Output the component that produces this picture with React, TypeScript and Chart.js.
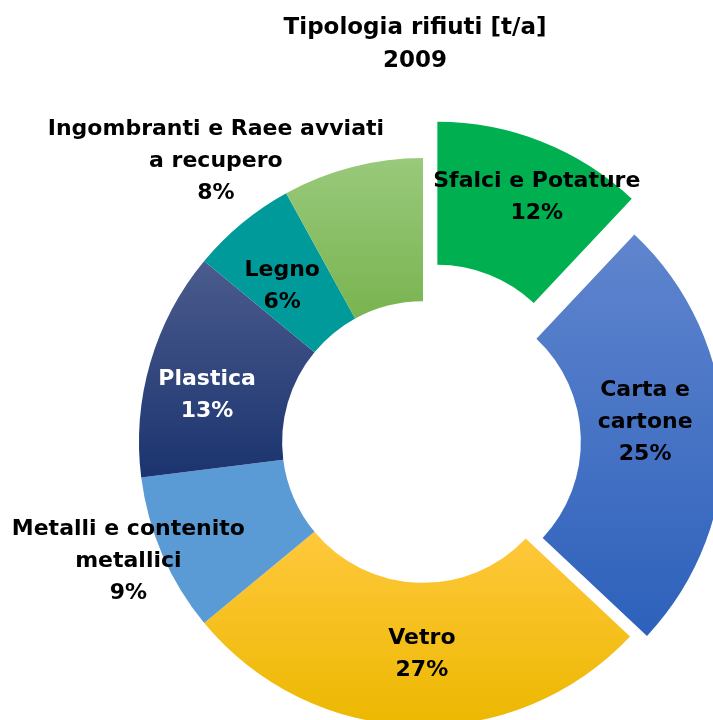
import React, { useEffect, useRef } from "react";
import { Chart, registerables } from "chart.js";

Chart.register(...registerables);

// ---- data ----
const categories = [
  "Sfalci e Potature",
  "Carta e cartone",
  "Vetro",
  "Metalli e contenito metallici",
  "Plastica",
  "Legno",
  "Ingombranti e Raee avviati a recupero",
];
const labelLines = [
  ["Sfalci e Potature"],
  ["Carta e", "cartone"],
  ["Vetro"],
  ["Metalli e contenito", "metallici"],
  ["Plastica"],
  ["Legno"],
  ["Ingombranti e Raee avviati", "a recupero"],
];
const values = [12, 25, 27, 9, 13, 6, 8];
const titleLines = ["Tipologia rifiuti [t/a]", "2009"];

// ---- style ----
const colorTop = ["#00B050", "#6085CE", "#FFC83C", "#5B9BD5", "#4B5B8D", "#009A9A", "#99C97B"];
const colorBottom = ["#00B050", "#2D61BB", "#ECB800", "#5B9BD5", "#1B346F", "#009A9A", "#79B44F"];
const labelColors = ["#000", "#000", "#000", "#000", "#fff", "#000", "#000"];
const explode = [39, 17, 0, 0, 0, 0, 0];
// [distance from slice centre, angle delta in degrees]
const labelPlacement: [number, number][] = [
  [231, 3.9],
  [206, -3.5],
  [212, -1.5],
  [318, 1.3],
  [221, -3.9],
  [210, -2.5],
  [349, -22],
];

const W = 846;
const H = 884;
const OUTER = 284;
const CUTOUT = 0.496;
const FONT = '"DejaVu Sans", sans-serif';
const FONT_SIZE = 22;
const TITLE_SIZE = 23;
const LINE_H = 32;

function arcGeom(chart: any, i: number) {
  const ca = chart.chartArea;
  const cx = (ca.left + ca.right) / 2;
  const cy = (ca.top + ca.bottom) / 2;
  const total = values.reduce((a, b) => a + b, 0);
  let start = -Math.PI / 2;
  for (let j = 0; j < i; j++) start += (values[j] / total) * Math.PI * 2;
  const end = start + (values[i] / total) * Math.PI * 2;
  const mid = (start + end) / 2;
  return {
    ox: cx + explode[i] * Math.cos(mid),
    oy: cy + explode[i] * Math.sin(mid),
    start,
    end,
  };
}

function sliceFill(ctx: any) {
  const chart = ctx.chart;
  const i = ctx.dataIndex;
  if (!chart.chartArea || i === undefined) return colorTop[i ?? 0];
  if (colorTop[i] === colorBottom[i]) return colorTop[i];
  const g = arcGeom(chart, i);
  let minY = Infinity;
  let maxY = -Infinity;
  for (let k = 0; k <= 64; k++) {
    const a = g.start + ((g.end - g.start) * k) / 64;
    for (const r of [OUTER * CUTOUT, OUTER]) {
      const y = g.oy + r * Math.sin(a);
      if (y < minY) minY = y;
      if (y > maxY) maxY = y;
    }
  }
  const grad = chart.ctx.createLinearGradient(0, minY, 0, maxY);
  grad.addColorStop(0, colorTop[i]);
  grad.addColorStop(1, colorBottom[i]);
  return grad;
}

const explodePlugin = {
  id: "explodeSlices",
  afterDatasetUpdate(chart: any, args: any) {
    const meta = args.meta;
    meta.data.forEach((arc: any, i: number) => {
      const d = explode[i];
      if (!d) return;
      const mid = (arc.startAngle + arc.endAngle) / 2;
      arc.x += d * Math.cos(mid);
      arc.y += d * Math.sin(mid);
    });
  },
};

const labelPlugin = {
  id: "sliceLabels",
  afterDatasetsDraw(chart: any) {
    const ctx = chart.ctx;
    const meta = chart.getDatasetMeta(0);
    const total = values.reduce((a, b) => a + b, 0);
    ctx.save();
    ctx.font = `bold ${FONT_SIZE}px ${FONT}`;
    ctx.textAlign = "center";
    ctx.textBaseline = "middle";
    meta.data.forEach((arc: any, i: number) => {
      const [r, dDeg] = labelPlacement[i];
      const a = (arc.startAngle + arc.endAngle) / 2 + (dDeg * Math.PI) / 180;
      const x = arc.x + r * Math.cos(a);
      const y = arc.y + r * Math.sin(a);
      const lines = [...labelLines[i], Math.round((values[i] / total) * 100) + "%"];
      ctx.fillStyle = labelColors[i];
      lines.forEach((t, k) => {
        ctx.fillText(t, x, y + (k - (lines.length - 1) / 2) * LINE_H);
      });
    });
    ctx.restore();
  },
};

export default function App() {
  const ref = useRef<HTMLCanvasElement | null>(null);

  useEffect(() => {
    document.body.style.margin = "0";
    const canvas = ref.current;
    if (!canvas) return;
    const chart = new Chart(canvas, {
      type: "doughnut",
      data: {
        labels: categories,
        datasets: [
          {
            data: values,
            backgroundColor: sliceFill as any,
            borderWidth: 0,
          },
        ],
      },
      options: {
        responsive: false,
        animation: false,
        devicePixelRatio: 1,
        events: [],
        radius: OUTER,
        cutout: CUTOUT * 100 + "%",
        layout: { padding: 0 },
        plugins: {
          legend: { display: false },
          tooltip: { enabled: false },
          title: { display: false },
        },
      } as any,
      plugins: [explodePlugin, labelPlugin],
    });
    return () => chart.destroy();
  }, []);

  return (
    <div
      style={{
        position: "fixed",
        left: 0,
        top: 0,
        width: 713,
        height: 720,
        overflow: "hidden",
        background: "#fff",
      }}
    >
      <canvas
        ref={ref}
        width={W}
        height={H}
        style={{ position: "absolute", left: 0, top: 0, width: W, height: H }}
      />
      <div
        style={{
          position: "absolute",
          left: 0,
          top: 10,
          width: 830,
          textAlign: "center",
          font: `bold ${TITLE_SIZE}px ${FONT}`,
          lineHeight: "33px",
          color: "#000",
        }}
      >
        {titleLines.map((t) => (
          <div key={t}>{t}</div>
        ))}
      </div>
    </div>
  );
}
